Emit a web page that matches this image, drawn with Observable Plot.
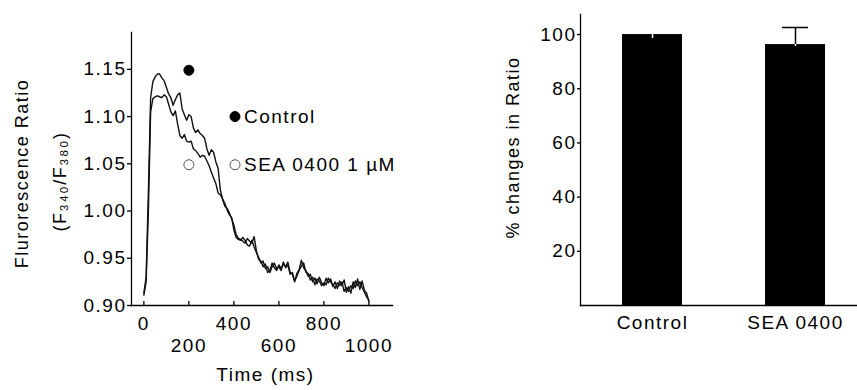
<!DOCTYPE html>
<html><head><meta charset="utf-8">
<script src="https://cdn.jsdelivr.net/npm/d3@7"></script>
<script src="https://cdn.jsdelivr.net/npm/@observablehq/plot@0.6"></script>
<style>
html,body{margin:0;padding:0;background:#fff;}
#wrap{position:relative;width:857px;height:390px;overflow:hidden;background:#fff;}
#left{position:absolute;left:0;top:0;}
#right{position:absolute;left:430px;top:0;}
</style></head><body>
<div id="wrap"><div id="left"></div><div id="right"></div></div>
<script>
// ---- Left panel: Ca transients ----
const times = [0,10,20,30,40,50,60,70,80,90,100,110,120,130,140,150,160,170,180,190,200,210,220,230,240,250,260,270,280,290,300,310,320,330,340,350,360,370,380,390,400,410,420,430,440,450,460,470,480,490,500,510,520,530,540,550,560,570,580,590,600,610,620,630,640,650,660,670,680,690,700,710,720,730,740,750,760,770,780,790,800,810,820,830,840,850,860,870,880,890,900,910,920,930,940,950,960,970,980,990,1000];
const controlRatio = [
0.913,0.930,1.020,1.120,1.137,1.142,1.145,1.145,1.141,1.138,
1.131,1.124,1.120,1.112,1.118,1.123,1.125,1.108,1.102,1.096,
1.102,1.100,1.088,1.083,1.086,1.082,1.080,1.077,1.066,1.059,
1.065,1.062,1.052,1.045,1.022,1.012,1.005,1.003,0.998,0.992,
0.985,0.975,0.971,0.970,0.968,0.966,0.971,0.968,0.966,0.973,
0.958,0.949,0.947,0.941,0.944,0.935,0.937,0.945,0.940,0.937,
0.943,0.939,0.944,0.941,0.946,0.935,0.933,0.925,0.934,0.938,
0.948,0.940,0.937,0.931,0.933,0.925,0.929,0.923,0.930,0.924,
0.921,0.929,0.924,0.928,0.920,0.925,0.918,0.926,0.921,0.927,
0.914,0.920,0.913,0.925,0.919,0.928,0.917,0.926,0.916,0.913,
0.904];
const seaRatio = [
0.911,0.925,1.000,1.105,1.119,1.121,1.122,1.121,1.120,1.123,
1.121,1.113,1.105,1.101,1.106,1.092,1.080,1.077,1.081,1.074,
1.073,1.074,1.066,1.064,1.061,1.057,1.059,1.058,1.053,1.048,
1.041,1.035,1.029,1.019,1.017,1.013,1.008,1.001,0.996,0.993,
0.980,0.972,0.970,0.969,0.972,0.969,0.964,0.963,0.969,0.962,
0.956,0.951,0.945,0.947,0.939,0.941,0.935,0.941,0.945,0.939,
0.941,0.937,0.946,0.940,0.943,0.933,0.935,0.926,0.931,0.937,
0.942,0.945,0.935,0.934,0.927,0.930,0.922,0.928,0.926,0.921,
0.924,0.922,0.929,0.925,0.922,0.918,0.924,0.921,0.925,0.915,
0.919,0.915,0.921,0.918,0.926,0.921,0.925,0.919,0.914,0.909,
0.906];
const yTicksLeft = [0.90, 0.95, 1.00, 1.05, 1.10, 1.15];
const xTicksRow1 = [0, 400, 800];
const xTicksRow2 = [200, 600, 1000];
const markerTime = [200, 200];
const markerRatio = [1.149, 1.049];
const legendTime = [405, 405];
const legendRatio = [1.10, 1.049];
const legendLabels = ["Control", "SEA 0400 1 µM"];
const markerFilled = [true, false];

// ---- Right panel: bars ----
const barCategories = ["Control", "SEA 0400"];
const barMeans = [100, 96.3];
const barErrUp = [0, 6.3];
const barErrDown = [1.5, 0.7];
const yTicksRight = [20, 40, 60, 80, 100];

const font = "'Liberation Sans', Arial, Helvetica, sans-serif";
const baseStyle = {fontFamily: font, fontSize: "19px", letterSpacing: "1.5px", color: "black", background: "white", overflow: "visible"};

const ctrl = times.map((t, i) => ({t, v: controlRatio[i]}));
const sea = times.map((t, i) => ({t, v: seaRatio[i]}));
const markers = markerTime.map((t, i) => ({t, v: markerRatio[i], filled: markerFilled[i]}));
const legend = legendTime.map((t, i) => ({t, v: legendRatio[i], label: legendLabels[i], filled: markerFilled[i]}));

const left = Plot.plot({
  width: 430, height: 390,
  marginLeft: 131, marginRight: 38, marginTop: 32, marginBottom: 85,
  style: baseStyle,
  x: {domain: [-55, 1105]},
  y: {domain: [0.90, 1.189]},
  marks: [
    Plot.frame({anchor: "left", stroke: "black", strokeWidth: 1.3}),
    Plot.frame({anchor: "bottom", stroke: "black", strokeWidth: 1.3}),
    Plot.tickX([...xTicksRow1, ...xTicksRow2], {x: d => d, insetTop: 269, stroke: "black", strokeWidth: 1.3}),
    Plot.axisY({ticks: yTicksLeft, tickFormat: d3.format(".2f"), tickSize: 4, tickPadding: 1, label: null, strokeWidth: 1.3}),
    Plot.axisX({ticks: xTicksRow1, tickFormat: d => String(d), tickSize: 0, tickPadding: 11, label: null}),
    Plot.axisX({ticks: xTicksRow2, tickFormat: d => String(d), tickSize: 0, tickPadding: 33, label: null}),
    Plot.line(sea, {x: "t", y: "v", stroke: "#111", strokeWidth: 1.4}),
    Plot.line(ctrl, {x: "t", y: "v", stroke: "#111", strokeWidth: 1.4}),
    Plot.dot(markers, {x: "t", y: "v", r: 5, fill: d => d.filled ? "black" : "white", stroke: d => d.filled ? "black" : "#555", strokeWidth: 1}),
    Plot.dot(legend, {x: "t", y: "v", r: 5, fill: d => d.filled ? "black" : "white", stroke: d => d.filled ? "black" : "#555", strokeWidth: 1}),
    Plot.text(legend, {x: "t", y: "v", text: "label", dx: 9, textAnchor: "start", fill: "black"}),
    Plot.text(["Flurorescence Ratio"], {text: d => d, frameAnchor: "left", textAnchor: "middle", rotate: -90, dx: -109, dy: 4.5, fontSize: 18, fill: "black"}),
    Plot.text(["(F₃₄₀/F₃₈₀)"], {text: d => d, frameAnchor: "left", textAnchor: "middle", rotate: -90, dx: -71, dy: 12.5, fontSize: 18, fill: "black"}),
    Plot.text(["Time (ms)"], {text: d => d, frameAnchor: "bottom", dx: 3.5, dy: 75, fill: "black"})
  ]
});
document.getElementById("left").append(left);

const bars = barCategories.map((c, i) => ({cat: c, mean: barMeans[i], up: barErrUp[i], down: barErrDown[i]}));
const right = Plot.plot({
  width: 427, height: 390,
  marginLeft: 150, marginRight: 0, marginTop: 14, marginBottom: 85,
  style: baseStyle,
  x: {type: "band", domain: barCategories, range: [150, 437], paddingInner: 0.583, paddingOuter: 0.29},
  y: {domain: [0, 107.4]},
  marks: [
    Plot.barY(bars, {x: "cat", y: "mean", fill: "black"}),
    Plot.ruleX(bars.filter(d => d.up > 0), {x: "cat", y1: "mean", y2: d => d.mean + d.up, stroke: "black", strokeWidth: 1.5}),
    Plot.tickY(bars.filter(d => d.up > 0), {x: "cat", y: d => d.mean + d.up, stroke: "black", strokeWidth: 1.5, insetLeft: 17, insetRight: 17}),
    Plot.ruleX(bars, {x: "cat", y1: d => d.mean - d.down, y2: "mean", stroke: "white", strokeWidth: 1.5}),
    Plot.frame({anchor: "left", stroke: "black", strokeWidth: 1.3}),
    Plot.frame({anchor: "bottom", stroke: "black", strokeWidth: 1.3}),
    Plot.axisY({ticks: yTicksRight, tickSize: 3, tickPadding: 1, label: null, strokeWidth: 1.3}),
    Plot.axisX({tickSize: 0, tickPadding: 10, label: null}),
    Plot.text(["% changes in Ratio"], {text: d => d, frameAnchor: "left", textAnchor: "middle", rotate: -90, dx: -67, dy: -12.5, fontSize: 18, fill: "black"})
  ]
});
document.getElementById("right").append(right);
</script>
</body></html>
